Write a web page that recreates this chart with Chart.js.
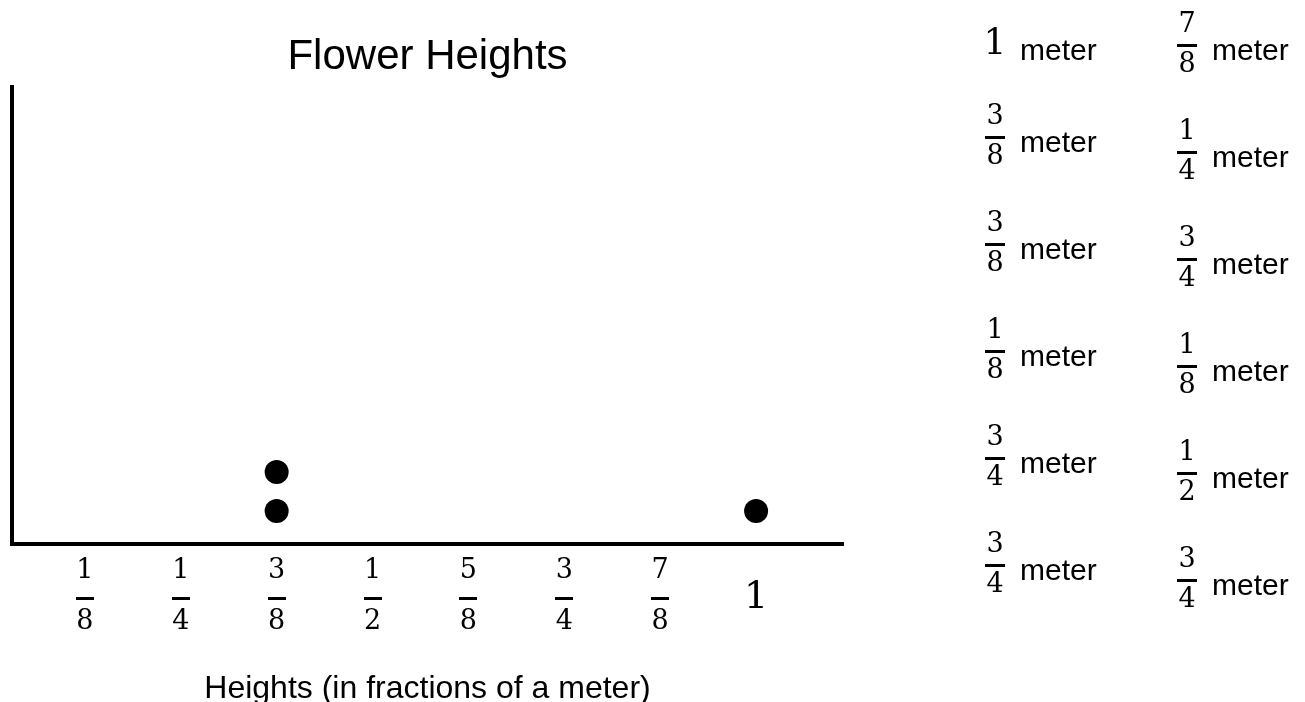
<!DOCTYPE html>
<html>
<head>
<meta charset="utf-8">
<script src="https://cdn.jsdelivr.net/npm/chart.js@4.4.1/dist/chart.umd.min.js"></script>
<style>
  html, body { margin: 0; padding: 0; background: #ffffff; }
  #wrap { position: relative; width: 1305px; height: 702px; }
</style>
</head>
<body>
<div id="wrap"><canvas id="c" width="1305" height="702"></canvas></div>
<script>
// ---- data ----
const chartTitle = 'Flower Heights';
const axisTitle = 'Heights (in fractions of a meter)';
const tickNumerators   = ['1', '1', '3', '1', '5', '3', '7', '1'];
const tickDenominators = ['8', '4', '8', '2', '8', '4', '8', ''];
const tickValues = [0.125, 0.25, 0.375, 0.5, 0.625, 0.75, 0.875, 1];
const dotValues = [0.375, 0.375, 1];
const dotStack  = [1, 2, 1];
const listColumn1Num = ['1', '3', '3', '1', '3', '3'];
const listColumn1Den = ['',  '8', '8', '8', '4', '4'];
const listColumn2Num = ['7', '1', '3', '1', '1', '3'];
const listColumn2Den = ['8', '4', '4', '8', '2', '4'];
const unitWord = 'meter';

const SANS = '"Liberation Sans", Arial, sans-serif';
const SERIF = '"DejaVu Serif", serif';

function drawFraction(ctx, cx, barY, num, den, size, gapUp, gapDown, barW, wholeSize) {
  ctx.fillStyle = '#000';
  ctx.textAlign = 'center';
  ctx.textBaseline = 'middle';
  if (!den) {
    ctx.font = wholeSize + 'px ' + SERIF;
    ctx.fillText(num, cx, barY);
    return;
  }
  ctx.font = size + 'px ' + SERIF;
  ctx.fillText(num, cx, barY - gapUp);
  ctx.fillText(den, cx, barY + gapDown);
  ctx.fillRect(Math.round(cx - barW / 2), Math.round(barY - 1.5), barW, 3);
}

const textPlugin = {
  id: 'textPlugin',
  afterDraw(chart) {
    const ctx = chart.ctx;
    const area = chart.chartArea;
    const xs = chart.scales.x;
    ctx.save();
    // title
    ctx.fillStyle = '#000';
    ctx.textAlign = 'center';
    ctx.textBaseline = 'middle';
    ctx.font = '42px ' + SANS;
    ctx.fillText(chartTitle, (area.left + area.right) / 2, 57);
    // x tick labels (fractions)
    tickValues.forEach((v, i) => {
      const px = xs.getPixelForValue(v);
      drawFraction(ctx, px, area.bottom + 54, tickNumerators[i], tickDenominators[i], 27, 27, 24, 18, 38);
    });
    // axis title
    ctx.font = '32px ' + SANS;
    ctx.textAlign = 'center';
    ctx.textBaseline = 'middle';
    ctx.fillText(axisTitle, (area.left + area.right) / 2, 689);
    // right-hand list of measurements
    const cols = [
      { nums: listColumn1Num, dens: listColumn1Den, cx: 995, wordX: 1020, dy: 0 },
      { nums: listColumn2Num, dens: listColumn2Den, cx: 1187, wordX: 1212, dy: 15 }
    ];
    cols.forEach(col => {
      col.nums.forEach((n, i) => {
        let barY = 30 + 107 * i + col.dy;
        if (!col.dens[i]) barY += 15;
        drawFraction(ctx, col.cx, barY, n, col.dens[i], 27, 20, 20, 20, 36);
        ctx.font = '30px ' + SANS;
        ctx.textAlign = 'left';
        ctx.textBaseline = 'alphabetic';
        ctx.fillText(unitWord, col.wordX, barY + 15);
      });
    });
    ctx.restore();
  }
};

new Chart(document.getElementById('c'), {
  type: 'scatter',
  data: {
    datasets: [{
      data: dotValues.map((v, i) => ({ x: v, y: dotStack[i] })),
      backgroundColor: '#000',
      borderColor: '#000',
      pointRadius: 12,
      pointHoverRadius: 12,
      borderWidth: 0
    }]
  },
  options: {
    responsive: false,
    animation: false,
    devicePixelRatio: 1,
    layout: { padding: { left: 11, top: 87, right: 462, bottom: 158 } },
    plugins: { legend: { display: false }, title: { display: false }, tooltip: { enabled: false } },
    scales: {
      x: {
        type: 'linear', min: 0.03, max: 1.1133,
        grid: { display: false, drawTicks: false },
        border: { display: true, color: '#000', width: 4 },
        ticks: { display: false }
      },
      y: {
        type: 'linear', min: 0.154, max: 11.87,
        grid: { display: false, drawTicks: false },
        border: { display: true, color: '#000', width: 4 },
        ticks: { display: false }
      }
    }
  },
  plugins: [textPlugin]
});
</script>
</body>
</html>
